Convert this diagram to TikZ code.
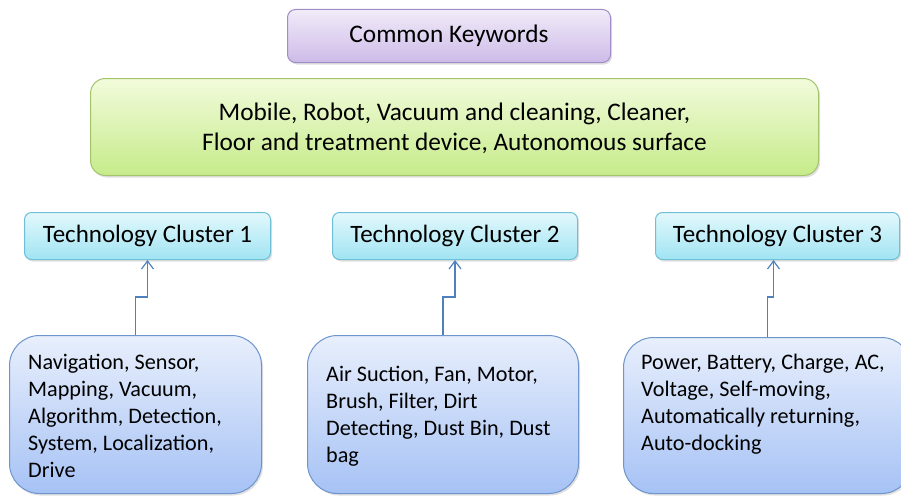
\documentclass[tikz,border=0pt]{standalone}
\usepackage{fontspec}
\setmainfont{Carlito}
\usetikzlibrary{shadows,arrows.meta}

\definecolor{kwtop}{HTML}{F1EBF9}
\definecolor{kwbot}{HTML}{CDBBE8}
\definecolor{kwline}{HTML}{A08CC6}
\definecolor{grtop}{HTML}{F2FBDC}
\definecolor{grbot}{HTML}{C6EB8A}
\definecolor{grline}{HTML}{A3C46A}
\definecolor{cytop}{HTML}{E3F8FC}
\definecolor{cybot}{HTML}{A0E4F3}
\definecolor{cyline}{HTML}{6FBFD6}
\definecolor{bltop}{HTML}{E8EFFC}
\definecolor{blbot}{HTML}{A6C2F5}
\definecolor{blline}{HTML}{6E95CC}
\definecolor{arrowblue}{HTML}{4F81BD}

\tikzset{
  boxbase/.style={draw, line width=1pt, anchor=north west, inner sep=0pt,
    drop shadow={opacity=0.25, shadow xshift=1.5pt, shadow yshift=-2pt}},
  kwbox/.style={boxbase, draw=kwline, top color=kwtop, bottom color=kwbot,
    rounded corners=8pt, font=\fontsize{25.3}{28}\selectfont},
  greenbox/.style={boxbase, draw=grline, top color=grtop, bottom color=grbot,
    rounded corners=15pt, align=center, font=\fontsize{25.3}{30}\selectfont},
  clusterbox/.style={boxbase, draw=cyline, top color=cytop, bottom color=cybot,
    rounded corners=7pt, font=\fontsize{25}{28}\selectfont},
  listbox/.style={boxbase, draw=blline, top color=bltop, bottom color=blbot,
    rounded corners=30pt},
  listtext/.style={anchor=north west, inner sep=0pt, align=left,
    font=\fontsize{22.2}{27}\selectfont},
  conn/.style={draw=arrowblue, line width=1.4pt,
    -{Straight Barb[length=8pt,width=12pt,line width=1.2pt]}},
}

\begin{document}
\begin{tikzpicture}[x=1pt,y=-1pt]
\useasboundingbox (0,0) rectangle (901,495);

% headline boxes
\node[kwbox, minimum width=323pt, minimum height=53pt] (kw) at (287,9) {Common Keywords};
\node[greenbox, minimum width=728pt, minimum height=97pt, text depth=1.5pt] (common) at (90,78)
  {Mobile, Robot, Vacuum and cleaning, Cleaner,\\Floor and treatment device, Autonomous surface};

% cluster headers
\node[clusterbox, minimum width=246pt, minimum height=47pt] (c1) at (24,212) {Technology Cluster 1};
\node[clusterbox, minimum width=245pt, minimum height=47pt] (c2) at (332,212) {Technology Cluster 2};
\node[clusterbox, minimum width=244pt, minimum height=47pt] (c3) at (655,212) {Technology Cluster 3};

% keyword lists
\node[listbox, minimum width=252pt, minimum height=158pt] (b1) at (9,335) {};
\node[listbox, minimum width=271pt, minimum height=158pt] (b2) at (307,335) {};
\node[listbox, minimum width=288pt, minimum height=156pt] (b3) at (623,337) {};

\node[listtext] (t1) at (28,354) {Navigation, Sensor,\\Mapping, Vacuum,\\Algorithm, Detection,\\System, Localization,\\Drive};
\node[listtext] (t2) at (326,366) {Air Suction, Fan, Motor,\\Brush, Filter, Dirt\\Detecting, Dust Bin, Dust\\bag};
\node[listtext] (t3) at (641,354) {Power, Battery, Charge, AC,\\Voltage, Self-moving,\\Automatically returning,\\Auto-docking};

% connectors
\draw[conn] (b1.north) -- ++(0,-38) -| (c1.south);
\draw[conn] (b2.north) -- ++(0,-38) -| (c2.south);
\draw[conn] (b3.north) -- ++(0,-40) -| ([xshift=-4pt]c3.south);
\end{tikzpicture}
\end{document}
